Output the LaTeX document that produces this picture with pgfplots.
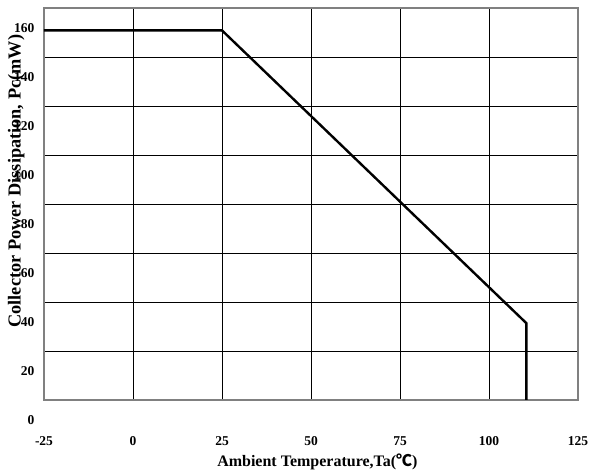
\documentclass[border=0pt]{standalone}
\usepackage{pgfplots}
\pgfplotsset{compat=1.18}
\usepackage{fontspec}
\setmainfont{Liberation Serif}
\newfontfamily\cjk{Noto Sans CJK SC}
\usetikzlibrary{calc}

\begin{document}
\begin{tikzpicture}
\begin{axis}[
    scale only axis,
    width=534pt, height=392pt,
    xmin=-25, xmax=125,
    ymin=8.15, ymax=168.15,
    xtick={-25,0,25,50,75,100,125},
    ytick={8.15,28.15,48.15,68.15,88.15,108.15,128.15,148.15,168.15},
    yticklabels={0,20,40,60,80,100,120,140,160},
    major tick length=0pt,
    grid=major,
    major grid style={black, line width=0.8pt},
    axis line style={black!50, line width=1.6pt},
    /pgf/number format/assume math mode=true,
    ticklabel style={font=\fontsize{13.5}{16}\selectfont\bfseries},
    xticklabel style={anchor=center, yshift=-41pt},
    yticklabel style={anchor=east, xshift=-6pt, yshift=-20pt},
    xlabel={Ambient Temperature,Ta({\cjk ℃})},
    ylabel={Collector Power Dissipation, Pc(mW)},
    xlabel style={font=\fontsize{16}{19}\selectfont\bfseries,
        at={(axis description cs:0.512,-0.158)}, anchor=center},
    ylabel style={font=\fontsize{18.3}{21}\selectfont\bfseries,
        at={(axis description cs:-0.052,0.558)}, anchor=center},
    clip=true,
]
\addplot[black, line width=2.4pt, line join=miter] coordinates {
    (-25,159) (25,159) (110.5,39.5) (110.5,0)
};
\end{axis}
\pgfresetboundingbox
\path[use as bounding box] ($(current axis.south west)+(-44pt,-70pt)$) rectangle ($(current axis.north east)+(15pt,8pt)$);
\end{tikzpicture}
\end{document}
